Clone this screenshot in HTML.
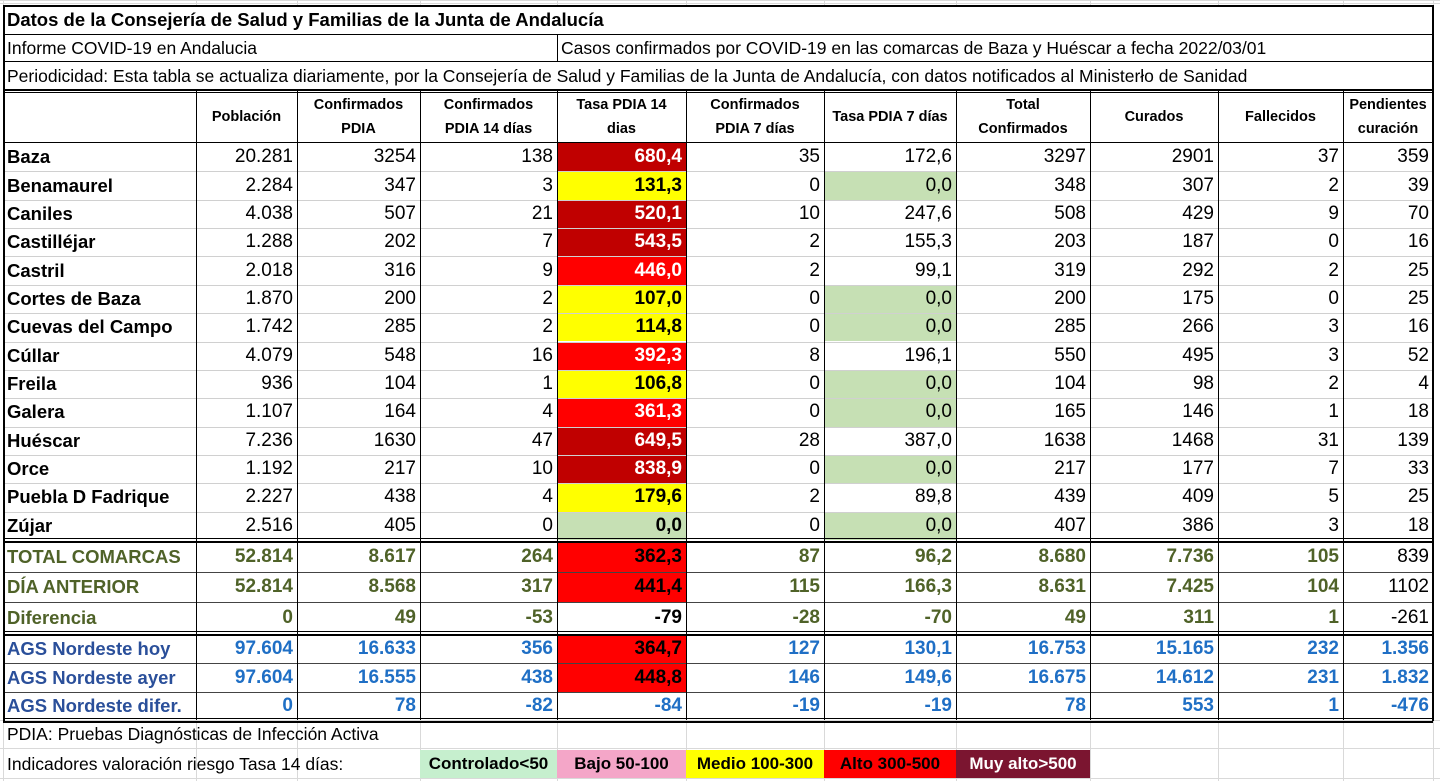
<!DOCTYPE html>
<html><head><meta charset="utf-8"><style>
body{margin:0;width:1440px;height:781px;background:#fff;overflow:hidden;position:relative;font-family:"Liberation Sans Narrow","Liberation Sans","DejaVu Sans Condensed",sans-serif;}
.c{position:absolute;box-sizing:border-box;white-space:nowrap;overflow:hidden;display:flex;align-items:center;}
.r{justify-content:flex-end;padding-right:4px;}
.l{justify-content:flex-start;padding-left:4px;}
.m{justify-content:center;text-align:center;}
.gl{position:absolute;background:#d9d9d9;}
.ln{position:absolute;background:#000;}
</style></head><body>
<div id="root"></div>
<script>
const colX=[3,196,297,420,557,686,824,956,1090,1218,1343,1433];
const headers=["","Población","Confirmados<br>PDIA","Confirmados<br>PDIA 14 días","Tasa PDIA 14<br>dias","Confirmados<br>PDIA 7 días","Tasa PDIA 7 días","Total<br>Confirmados","Curados","Fallecidos","Pendientes<br>curación"];
const towns=["Baza","Benamaurel","Caniles","Castilléjar","Castril","Cortes de Baza","Cuevas del Campo","Cúllar","Freila","Galera","Huéscar","Orce","Puebla D Fadrique","Zújar"];
const poblacion=["20.281","2.284","4.038","1.288","2.018","1.870","1.742","4.079","936","1.107","7.236","1.192","2.227","2.516"];
const confirmados=[3254,347,507,202,316,200,285,548,104,164,1630,217,438,405];
const conf14=[138,3,21,7,9,2,2,16,1,4,47,10,4,0];
const tasa14=[680.4,131.3,520.1,543.5,446.0,107.0,114.8,392.3,106.8,361.3,649.5,838.9,179.6,0.0];
const conf7=[35,0,10,2,2,0,0,8,0,0,28,0,2,0];
const tasa7=[172.6,0.0,247.6,155.3,99.1,0.0,0.0,196.1,0.0,0.0,387.0,0.0,89.8,0.0];
const totalConf=[3297,348,508,203,319,200,285,550,104,165,1638,217,439,407];
const curados=[2901,307,429,187,292,175,266,495,98,146,1468,177,409,386];
const fallecidos=[37,2,9,0,2,0,3,3,2,1,31,7,5,3];
const pendientes=[359,39,70,16,25,25,16,52,4,18,139,33,25,18];
const sumLabels=["TOTAL COMARCAS","DÍA ANTERIOR","Diferencia","AGS Nordeste hoy","AGS Nordeste ayer","AGS Nordeste difer."];
const sumValues=[
["52.814","8.617","264","362,3","87","96,2","8.680","7.736","105","839"],
["52.814","8.568","317","441,4","115","166,3","8.631","7.425","104","1102"],
["0","49","-53","-79","-28","-70","49","311","1","-261"],
["97.604","16.633","356","364,7","127","130,1","16.753","15.165","232","1.356"],
["97.604","16.555","438","448,8","146","149,6","16.675","14.612","231","1.832"],
["0","78","-82","-84","-19","-19","78","553","1","-476"]];
const legendLabels=["Controlado<50","Bajo 50-100","Medio 100-300","Alto 300-500","Muy alto>500"];
const legendColors=["#c6efce","#f4a6c8","#ffff00","#ff0000","#7b1530"];

const root=document.getElementById('root');
function cell(x,y,w,h,html,cls,style){const d=document.createElement('div');d.className='c '+cls;d.style.cssText=`left:${x}px;top:${y}px;width:${w}px;height:${h}px;`+(style||'');d.innerHTML=html;root.appendChild(d);return d;}
function line(x,y,w,h,c){const d=document.createElement('div');d.className='ln';d.style.cssText=`left:${x}px;top:${y}px;width:${w}px;height:${h}px;`+(c?`background:${c};`:'');root.appendChild(d);return d;}
function tasaColor(v){if(v<50)return '#c6e0b4';if(v<100)return '#f4a6c8';if(v<300)return '#ffff00';if(v<500)return '#ff0000';return '#c00000';}
function fmt1(v){return v.toFixed(1).replace('.',',');}

for(let i=0;i<colX.length;i++){const g=document.createElement('div');g.className='gl';g.style.cssText=`left:${colX[i]}px;top:0;width:1px;height:781px;`;root.appendChild(g);}
[720,748,778].forEach(y=>{const g=document.createElement('div');g.className='gl';g.style.cssText=`left:0;top:${y}px;width:1440px;height:1px;`;root.appendChild(g);});
[0,3].forEach(y=>{const g=document.createElement('div');g.className='gl';g.style.cssText=`left:0;top:${y}px;width:1440px;height:1px;`;root.appendChild(g);});

const W=colX[11]-colX[0];
const bg=document.createElement('div');bg.style.cssText=`position:absolute;left:3px;top:5px;width:${W}px;height:715px;background:#fff;`;root.appendChild(bg);
let t=cell(3,5,W,30,"Datos de la Consejería de Salud y Familias de la Junta de Andalucía",'l','font-weight:bold;font-size:18.5px;');

t=cell(3,35,557-3,27,"Informe COVID-19 en Andalucia",'l','font-size:17.5px;');

t=cell(557,35,1433-557,27,"Casos confirmados por COVID-19 en las comarcas de Baza y Huéscar a fecha 2022/03/01",'l','font-size:17.5px;');

t=cell(3,62,W,28,"Periodicidad: Esta tabla se actualiza diariamente, por la Consejería de Salud y Familias de la Junta de Andalucía, con datos notificados al Ministerło de Sanidad",'l','font-size:17.5px;');

for(let i=0;i<11;i++){const h=cell(colX[i],91,colX[i+1]-colX[i],52,headers[i],'m','font-weight:bold;font-size:14.5px;line-height:24px;');
}
const rowH=(540-143)/14;
for(let r=0;r<towns.length;r++){
 const y=143+r*rowH;const vals=[poblacion[r],confirmados[r],conf14[r],fmt1(tasa14[r]),conf7[r],fmt1(tasa7[r]),totalConf[r],curados[r],fallecidos[r],pendientes[r]];
 let n=cell(colX[0],y,colX[1]-colX[0],rowH,towns[r],'l','font-weight:bold;font-size:18.5px;');
 
 for(let c=0;c<10;c++){let st='font-size:19px;';
  if(c===3)st+=`background:${tasaColor(tasa14[r])};font-weight:bold;color:${tasa14[r]>=300?'#fff':'#000'};`;
  if(c===5&&tasa7[r]===0)st+='background:#c6e0b4;';
  const d=cell(colX[c+1],y,colX[c+2]-colX[c+1],rowH,String(vals[c]),'r',st);
  }
 if(r>0)line(3,y,W,1,'#d0d0d0');
}
const sumY=[541,572,602,634,663,692,720];
for(let r=0;r<6;r++){
 const y=sumY[r],h=sumY[r+1]-y;const blue=r>=3;const col=blue?'#1f6fc5':'#4f6228';
 let n=cell(colX[0],y,colX[1]-colX[0],h,sumLabels[r],'l',`font-weight:bold;font-size:18.5px;color:${blue?'#2a4f9a':'#4f6228'};`);
 
 for(let c=0;c<10;c++){let st=`font-weight:bold;font-size:19px;color:${col};`;
  if(c===3&&r!==2&&r!==5){const v=parseFloat(sumValues[r][3].replace(',','.'));st+=`background:${tasaColor(v)};color:#000;`;}
  if(c===3&&r===2)st+='color:#000;';
  if(c===9&&!blue)st+='font-weight:normal;color:#000;';
  const d=cell(colX[c+1],y,colX[c+2]-colX[c+1],h,sumValues[r][c],'r',st);
  }
 if(r!==0&&r!==3)line(3,y,W,1,'#444');
}
t=cell(3,720,700,28,"PDIA: Pruebas Diagnósticas de Infección Activa",'l','font-size:17.5px;');

t=cell(3,750,410,28,"Indicadores valoración riesgo Tasa 14 días:",'l','font-size:17.5px;');

const legX=[420,557,686,824,956,1090];
for(let i=0;i<5;i++){const d=cell(legX[i],750,legX[i+1]-legX[i],28,legendLabels[i],'m',`background:${legendColors[i]};font-weight:bold;font-size:17px;color:${i===4?'#fff':'#000'};`);
 }
line(3,5,W,2);line(3,34,W,1);line(3,61,W,1);line(3,89,W,2);line(3,92,W,1);line(3,142,W,1);
line(3,538,W,1);line(3,541,W,1.5);line(3,631,W,1);line(3,634,W,1.5);line(3,718,W,1);line(3,721,W,1.5);
line(3,5,2,716);line(1432,5,2,716);line(557,35,1,27);
for(let i=1;i<11;i++)line(colX[i],91,1,629);
</script>
</body></html>
